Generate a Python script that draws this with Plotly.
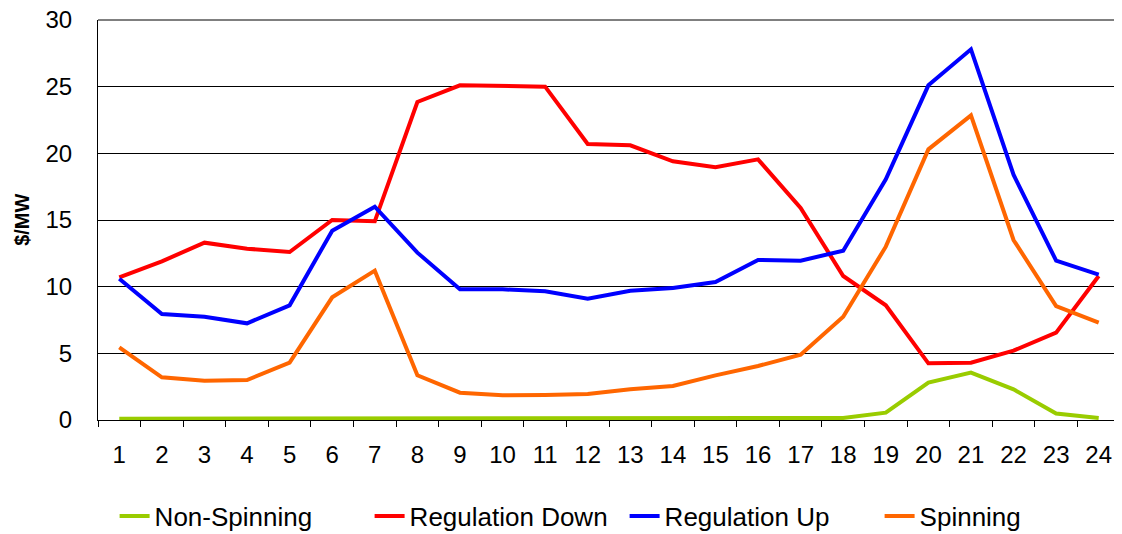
import plotly.graph_objects as go

hours = [str(h) for h in range(1, 25)]

non_spinning = [0.1, 0.1, 0.1, 0.1, 0.1, 0.1, 0.1, 0.1, 0.1, 0.1, 0.1, 0.1,
                0.1, 0.1, 0.1, 0.1, 0.15, 0.15, 0.55, 2.8, 3.55, 2.3, 0.48, 0.15]
regulation_down = [10.7, 11.9, 13.3, 12.85, 12.6, 15.0, 14.9, 23.85, 25.1, 25.05, 25.0, 20.7,
                   20.6, 19.4, 18.95, 19.55, 15.9, 10.8, 8.6, 4.25, 4.3, 5.2, 6.55, 10.8]
regulation_up = [10.6, 7.95, 7.75, 7.25, 8.6, 14.2, 16.0, 12.55, 9.8, 9.8, 9.65, 9.1,
                 9.7, 9.9, 10.35, 12.0, 11.95, 12.7, 18.05, 25.1, 27.8, 18.4, 11.95, 10.9]
spinning = [5.45, 3.2, 2.95, 3.0, 4.3, 9.2, 11.2, 3.35, 2.05, 1.85, 1.88, 1.95,
            2.3, 2.55, 3.35, 4.05, 4.9, 7.75, 13.0, 20.3, 22.85, 13.5, 8.55, 7.3]

series = [
    ("Non-Spinning", non_spinning, "#99CC00"),
    ("Regulation Down", regulation_down, "#FF0000"),
    ("Regulation Up", regulation_up, "#0000FF"),
    ("Spinning", spinning, "#FF6600"),
]

fig = go.Figure()
for name, vals, color in series:
    fig.add_trace(go.Scatter(x=hours, y=vals, name=name, mode="lines",
                             line=dict(color=color, width=4)))

family = "Liberation Sans, Arial, sans-serif"
tick_font = dict(family=family, size=24, color="black")
legend_font = dict(family=family, size=26, color="black")

# page body has an 8px margin, so the figure is a bit smaller than the window
fig.update_layout(
    width=1114, height=526,
    margin=dict(l=90, r=2, t=12, b=114),
    paper_bgcolor="white", plot_bgcolor="white",
    font=tick_font,
    showlegend=True,
    legend=dict(orientation="h", xref="container", x=0.5535, xanchor="center",
                yref="container", y=0.034, yanchor="middle",
                font=legend_font, tracegroupgap=0,
                entrywidth=210, entrywidthmode="pixels"),
    xaxis=dict(type="category", range=[-0.5, 23.5], showgrid=False,
               ticks="outside", tickson="boundaries", ticklen=6, tickcolor="black",
               showline=True, linecolor="black", linewidth=1, mirror=False,
               tickfont=tick_font, ticklabelstandoff=13, automargin=False),
    yaxis=dict(range=[0, 30], dtick=5, showgrid=True, gridcolor="black", gridwidth=1,
               showline=True, linecolor="black", linewidth=1, zeroline=False,
               ticks="", tickfont=tick_font, ticklabelstandoff=20, automargin=False,
               ticklabeloverflow="allow"),
)
# y-axis title placed by hand
fig.add_annotation(text="<b>$/MW</b>", xref="paper", yref="paper",
                   x=-0.0745, y=0.5, xanchor="center", yanchor="middle",
                   textangle=-90, showarrow=False,
                   font=dict(family=family, size=20, color="black"))
# top and right border of plot area
fig.add_shape(type="line", xref="paper", yref="paper", x0=0, x1=1, y0=1, y1=1,
              line=dict(color="black", width=1))
fig.add_shape(type="line", xref="paper", yref="paper", x0=1, x1=1, y0=0, y1=1,
              line=dict(color="#808080", width=2))

fig.write_html("out.html")
